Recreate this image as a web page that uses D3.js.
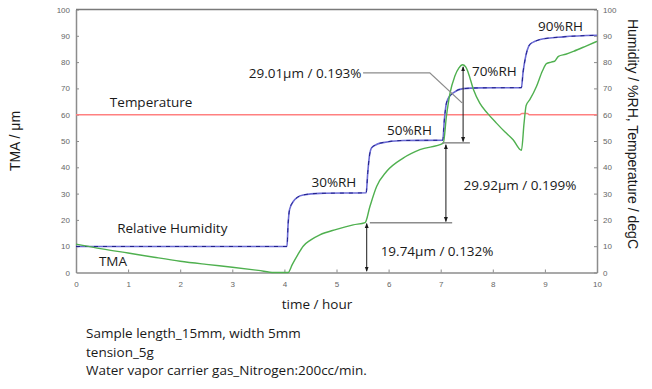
<!DOCTYPE html>
<html lang="en">
<head>
<meta charset="UTF-8">
<title>TMA under humidity steps</title>
<script src="https://cdnjs.cloudflare.com/ajax/libs/d3/7.8.5/d3.min.js"></script>
<style>
  body { margin: 0; background: #fff; }
  svg { display: block; }
  .tick text { font-family: "Liberation Sans", Arial, sans-serif; font-size: 8px; fill: #666; }
  .lbl { font-family: "Open Sans", sans-serif; font-size: 13.5px; fill: #1a1a1a; }
  .title { font-family: "Liberation Sans", Arial, sans-serif; font-size: 14px; fill: #1a1a1a; }
</style>
</head>
<body>
<svg width="652" height="389"></svg>
<script>
// TMA (green), time in hours
const tmaTime  = [0, 0.5, 1, 1.5, 2, 2.5, 3, 3.5, 3.8, 4.07, 4.15, 4.25, 4.36, 4.5, 4.68, 5.0, 5.32, 5.55,
                  5.64, 5.77, 5.96, 6.28, 6.6, 7.05, 7.11, 7.18, 7.27, 7.35, 7.42, 7.48, 7.53, 7.63, 7.75, 7.9,
                  8.07, 8.23, 8.39, 8.55, 8.6, 8.64, 8.71, 8.84, 8.95, 9.03, 9.12, 9.19, 9.26, 9.4, 9.55, 9.8, 10];
const tmaValue = [10.8, 9.0, 7.4, 5.8, 4.3, 3.1, 2.0, 0.8, 0, 0, 3.0, 6.5, 10.0, 12.3, 14.3, 16.4, 18.1, 19.0,
                  25, 32.7, 38.4, 43.5, 46.7, 49.2, 59.4, 68.3, 74.6, 77.8, 79, 78.2, 75.9, 69.5, 64.4, 60.5,
                  56.8, 53.5, 50.5, 46.5, 56.8, 63.5, 65.7, 70.8, 76.5, 79.4, 80.0, 80.4, 82.2, 83, 84.1, 86.2, 87.9];

// Relative humidity (blue)
const rhTime  = [0, 4.05, 4.07, 4.1, 4.17, 4.25, 4.36, 4.68, 5.57, 5.6, 5.63, 5.67, 5.75, 5.84, 6.28, 7.04,
                 7.07, 7.11, 7.17, 7.24, 7.43, 7.75, 8.55, 8.58, 8.62, 8.66, 8.71, 8.8, 8.91, 9.35, 10];
const rhValue = [9.9, 9.9, 18, 24, 27, 28.6, 29.5, 30.1, 30.3, 38, 44, 47.3, 48.5, 49.2, 50.2, 50.3,
                 58, 64.4, 67, 68.3, 69.9, 70.2, 70.3, 76, 81, 84.5, 86.7, 87.8, 88.6, 89.6, 90.2];

// Temperature (red)
const tempTime  = [0, 8.52, 8.56, 8.66, 8.7, 10];
const tempValue = [60, 60, 60.5, 60.5, 60, 60];

const xTicks = [0, 1, 2, 3, 4, 5, 6, 7, 8, 9, 10];
const yTicks = [0, 10, 20, 30, 40, 50, 60, 70, 80, 90, 100];

// step labels [time, value, text], centred
const stepLabels = [[4.95, 34.4, "30%RH"], [6.4, 54.2, "50%RH"], [8.03, 76.6, "70%RH"], [9.3, 93.5, "90%RH"]];
// series labels, left aligned
const seriesLabels = [[0.65, 64.8, "Temperature"], [0.79, 16.9, "Relative Humidity"], [0.44, 4.2, "TMA"]];

// change annotations
const calloutText = "29.01\u03bcm / 0.193%";
const callout = [[5.51, 75.9], [6.79, 75.9], [7.41, 64.5]];
const arrows = [[7.43, 78.2, 49.8], [7.1, 48.6, 19.4], [5.58, 18.6, 0.5]];
const levels = [[7.03, 7.56, 49.3], [5.64, 7.22, 18.9]];
const diffLabels = [[5.48, 75.9, calloutText], [8.52, 33.3, "29.92\u03bcm / 0.199%"], [6.93, 8.0, "19.74\u03bcm / 0.132%"]];

const notes = ["Sample length_15mm, width 5mm", "tension_5g", "Water vapor carrier gas_Nitrogen:200cc/min."];

const svg = d3.select("svg");
const x = d3.scaleLinear().domain([0, 10]).range([76, 597]);
const y = d3.scaleLinear().domain([0, 100]).range([272.5, 9.5]);

const defs = svg.append("defs");
defs.append("marker").attr("id", "ah").attr("viewBox", "0 0 10 10").attr("refX", 9).attr("refY", 5)
  .attr("markerWidth", 5).attr("markerHeight", 5).attr("orient", "auto-start-reverse")
  .append("path").attr("d", "M0,1L10,5L0,9z").attr("fill", "#1a1a1a");

// axes
const axisColor = "#8c8c8c";
const gl = svg.append("g").attr("transform", `translate(${x(0)},0)`)
  .call(d3.axisLeft(y).tickValues(yTicks).tickSizeInner(-3).tickSizeOuter(0).tickPadding(6));
const gr = svg.append("g").attr("transform", `translate(${x(10)},0)`)
  .call(d3.axisRight(y).tickValues(yTicks).tickSizeInner(-3).tickSizeOuter(0).tickPadding(6));
const gb = svg.append("g").attr("transform", `translate(0,${y(0)})`)
  .call(d3.axisBottom(x).tickValues(xTicks).tickSizeInner(-3).tickSizeOuter(0).tickPadding(9));
[gl, gr, gb].forEach(g => {
  g.select(".domain").attr("stroke", axisColor).attr("stroke-width", 1.5);
  g.selectAll(".tick line").attr("stroke", axisColor);
});
gl.selectAll(".tick").filter(d => d === 0).select("line").remove();
svg.append("line").attr("x1", x(0)).attr("x2", x(10)).attr("y1", y(100)).attr("y2", y(100))
  .attr("stroke", "#7a7a7a").attr("stroke-width", 1.5);

// series
const line = d3.line().x(d => x(d[0])).y(d => y(d[1])).curve(d3.curveMonotoneX);
const zip = (a, b) => a.map((t, i) => [t, b[i]]);

svg.append("path").attr("d", line(zip(tempTime, tempValue)))
  .attr("fill", "none").attr("stroke", "#ff8080").attr("stroke-width", 1.5);
svg.append("path").attr("d", line(zip(rhTime, rhValue)))
  .attr("fill", "none").attr("stroke", "#6a6ad4").attr("stroke-width", 1.6);
svg.append("path").attr("d", line(zip(rhTime, rhValue)))
  .attr("fill", "none").attr("stroke", "#20208a").attr("stroke-width", 1).attr("stroke-dasharray", "4,5");
svg.append("path").attr("d", line(zip(tmaTime, tmaValue)))
  .attr("fill", "none").attr("stroke", "#4fb04f").attr("stroke-width", 1.4);

// annotations
svg.append("path").attr("d", d3.line().x(d => x(d[0])).y(d => y(d[1]))(callout))
  .attr("fill", "none").attr("stroke", "#8c8c8c").attr("stroke-width", 1.3);
levels.forEach(l => svg.append("line").attr("x1", x(l[0])).attr("x2", x(l[1])).attr("y1", y(l[2])).attr("y2", y(l[2]))
  .attr("stroke", "#8c8c8c").attr("stroke-width", 1.5));
arrows.forEach(a => svg.append("line").attr("x1", x(a[0])).attr("x2", x(a[0])).attr("y1", y(a[1])).attr("y2", y(a[2]))
  .attr("stroke", "#1a1a1a").attr("stroke-width", 1)
  .attr("marker-start", "url(#ah)").attr("marker-end", "url(#ah)"));

svg.selectAll(".step").data(stepLabels).join("text").attr("class", "lbl")
  .attr("x", d => x(d[0])).attr("y", d => y(d[1])).attr("dy", "0.35em").attr("text-anchor", "middle").text(d => d[2]);
svg.selectAll(".ser").data(seriesLabels).join("text").attr("class", "lbl")
  .attr("x", d => x(d[0])).attr("y", d => y(d[1])).attr("dy", "0.35em").text(d => d[2]);
svg.selectAll(".diff").data(diffLabels).join("text").attr("class", "lbl")
  .attr("x", d => x(d[0])).attr("y", d => y(d[1])).attr("dy", "0.35em")
  .attr("text-anchor", (d, i) => i === 0 ? "end" : "middle").text(d => d[2]);

// titles
svg.append("text").attr("class", "lbl").attr("x", 317).attr("y", 309)
  .attr("text-anchor", "middle").text("time / hour");
svg.append("text").attr("class", "title").attr("transform", "translate(20,141) rotate(-90)")
  .attr("text-anchor", "middle").text("TMA / \u03bcm");
svg.append("text").attr("class", "title").attr("transform", "translate(628,134) rotate(90)")
  .attr("text-anchor", "middle").text("Humidity / %RH, Temperature / degC");

svg.selectAll(".note").data(notes).join("text").attr("class", "lbl")
  .attr("x", 86).attr("y", (d, i) => 338 + i * 18.5).text(d => d);
</script>
</body>
</html>
